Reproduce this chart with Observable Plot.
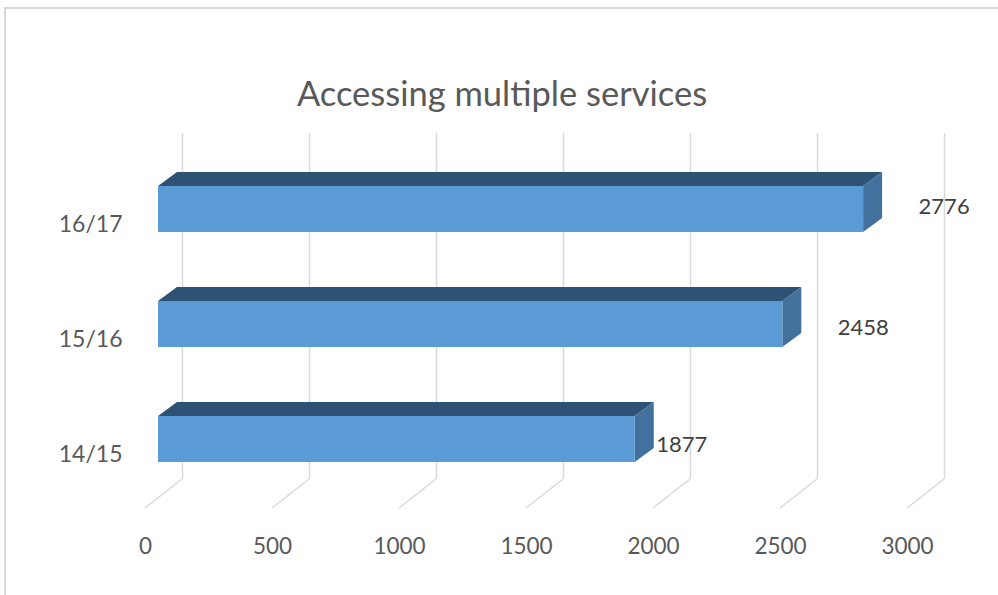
<!DOCTYPE html>
<html>
<head>
<meta charset="utf-8">
<script src="https://cdn.jsdelivr.net/npm/d3@7"></script>
<script src="https://cdn.jsdelivr.net/npm/@observablehq/plot@0.6"></script>
<style>
  html, body { margin: 0; padding: 0; background: #ffffff; overflow: hidden; }
  #wrap { position: relative; width: 998px; height: 595px; }
  #border { position: absolute; left: 4px; top: 7px; width: 1100px; height: 700px;
            border-left: 2px solid #d9d9d9; border-top: 2px solid #d9d9d9; pointer-events: none; }
  #chart { position: absolute; left: 0; top: 0; }
</style>
</head>
<body>
<div id="wrap"><div id="border"></div><div id="chart"></div></div>
<script>
const title = "Accessing multiple services";
const categories = ["14/15", "15/16", "16/17"];
const values = [1877, 2458, 2776];
const xTicks = [0, 500, 1000, 1500, 2000, 2500, 3000];

const data = categories.map((c, i) => ({cat: c, value: values[i]}));

const FRONT = "#5b9bd5", TOP = "#2e5274", SIDE = "#41719c", GRID = "#d9d9d9";
const DEPTH_DX = 19, DEPTH_DY = -14;      // bar depth
const WALL_DX = 24, WALL_DY = -18;        // back wall offset from bar front plane
const FLOOR_DX = -13, FLOOR_DY = 11;      // front edge of floor

// top and side faces of the 3-D bars, drawn through Plot's scales
function barDepth(index, scales, values_, dimensions) {
  const x = scales.x, y = scales.y;
  const bw = y.bandwidth ? y.bandwidth() : 46;
  const g = d3.create("svg:g");
  for (const d of data) {
    const x0 = x(0), x1 = x(d.value), yt = y(d.cat), yb = yt + bw;
    g.append("path").attr("fill", TOP)
      .attr("d", `M${x0},${yt}L${x0 + DEPTH_DX},${yt + DEPTH_DY}L${x1 + DEPTH_DX},${yt + DEPTH_DY}L${x1},${yt}Z`);
    g.append("path").attr("fill", SIDE)
      .attr("d", `M${x1},${yt}L${x1 + DEPTH_DX},${yt + DEPTH_DY}L${x1 + DEPTH_DX},${yb + DEPTH_DY}L${x1},${yb}Z`);
  }
  return g.node();
}

// slanted floor lines
function floorLines(index, scales, values_, dimensions) {
  const x = scales.x;
  const yFloor = dimensions.height - dimensions.marginBottom;
  const g = d3.create("svg:g").attr("stroke", GRID).attr("stroke-width", 1.5).attr("fill", "none");
  for (const t of xTicks) {
    g.append("line")
      .attr("x1", x(t) + WALL_DX).attr("y1", yFloor + WALL_DY)
      .attr("x2", x(t) + FLOOR_DX).attr("y2", yFloor + FLOOR_DY);
  }
  return g.node();
}

const labelText = d => String(d.value);
const plot = Plot.plot({
  width: 998,
  height: 595,
  marginLeft: 158,
  marginRight: 78,
  marginTop: 151,
  marginBottom: 98,
  style: {fontFamily: "Lato, 'Open Sans', sans-serif", background: "transparent", overflow: "visible"},
  x: {domain: [0, 3000], axis: null},
  y: {domain: [...categories].reverse(), axis: null, paddingInner: 0.6, paddingOuter: 0.3},
  marks: [
    Plot.ruleX(xTicks, {x: d => d, dx: WALL_DX, dy: WALL_DY, stroke: GRID, strokeWidth: 1.5}),
    floorLines,
    barDepth,
    Plot.barX(data, {x: "value", y: "cat", fill: FRONT}),
    Plot.text(xTicks, {x: d => d, frameAnchor: "bottom", dx: FLOOR_DX, dy: 56, text: d => String(d),
      fontSize: 22.5, fill: "#595959"}),
    Plot.text(data, {y: "cat", text: "cat", frameAnchor: "left", dx: -36, dy: 15, textAnchor: "end",
      fontSize: 23, fill: "#595959"}),
    Plot.text(data.filter(d => d.cat === "16/17"), {x: "value", y: "cat", text: labelText,
      dx: 55, dy: -3, textAnchor: "start", fontSize: 22, fill: "#404040"}),
    Plot.text(data.filter(d => d.cat === "15/16"), {x: "value", y: "cat", text: labelText,
      dx: 55, dy: 3, textAnchor: "start", fontSize: 22, fill: "#404040"}),
    Plot.text(data.filter(d => d.cat === "14/15"), {x: "value", y: "cat", text: labelText,
      dx: 21, dy: 5, textAnchor: "start", fontSize: 22, fill: "#404040"}),
    Plot.text([title], {frameAnchor: "top", dx: -37.5, dy: -70, text: d => d, fontSize: 34.5, fill: "#595959"})
  ]
});
document.getElementById("chart").appendChild(plot);
</script>
</body>
</html>
